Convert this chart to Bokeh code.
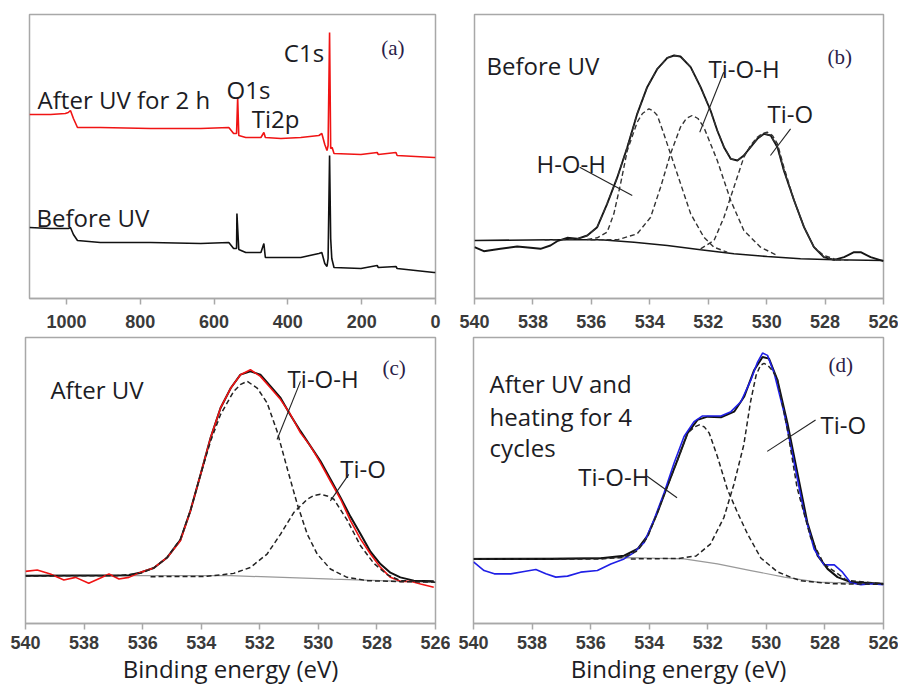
from bokeh.plotting import figure
from bokeh.layouts import column, row
from bokeh.models import Range1d, FixedTicker, Label, ColumnDataSource
from bokeh.embed import file_html
from bokeh.resources import INLINE

# ---------------- (a) survey spectra ----------------
survey_after_be = [1100, 1043, 1003, 995, 989, 981, 970, 908, 772, 636, 560, 547, 539, 536, 533,
                   514, 473, 465, 461, 419, 365, 316, 308, 300, 294, 291, 287, 284, 280, 275,
                   202, 158, 155, 107, 104, 4, 0]
survey_after_int = [184, 184, 185, 186, 188, 180, 171, 171, 170, 170, 171, 165, 165, 201, 163,
                    161, 161, 166, 161, 160, 161, 163, 165, 154, 148, 153, 266, 150, 151, 145,
                    144, 146, 144, 146, 143, 141, 141]
survey_before_be = [1100, 1043, 1003, 995, 989, 981, 970, 908, 772, 636, 560, 547, 539, 538, 533,
                    514, 473, 465, 461, 419, 365, 316, 308, 300, 294, 291, 287, 284, 281, 275,
                    202, 158, 155, 107, 104, 4, 0]
survey_before_int = [71, 70, 70, 70, 71, 64, 58, 56, 56, 55, 56, 50, 50, 85, 49,
                     46, 46, 55, 41, 41, 41, 45, 46, 35, 32, 40, 143, 60, 40, 31,
                     30, 33, 31, 32, 30, 26, 26]
survey_ticks = [1000, 800, 600, 400, 200, 0]

# ---------------- (b) O1s before UV ----------------
b_raw_be = [540.00, 539.68, 539.11, 538.54, 538.08, 537.74, 537.40, 537.17, 536.83, 536.48,
            536.14, 535.80, 535.46, 535.11, 534.77, 534.43, 534.09, 533.74, 533.40, 533.17,
            532.95, 532.60, 532.26, 531.92, 531.69, 531.46, 531.23, 531.00, 530.78, 530.55,
            530.32, 530.09, 529.86, 529.63, 529.41, 529.06, 528.72, 528.38, 528.04, 527.69,
            527.35, 527.01, 526.78, 526.44, 526.00]
b_raw_int = [56.3, 52.3, 54.7, 57.0, 55.7, 54.7, 58.0, 62.3, 65.7, 64.7,
             68.0, 76.3, 99.7, 126.3, 156.3, 189.7, 216.3, 234.7, 245.7, 248.0,
             247.0, 236.3, 216.3, 193.0, 173.0, 156.3, 144.7, 143.0, 148.0, 156.3,
             164.7, 169.7, 168.0, 156.3, 133.0, 103.0, 76.3, 56.3, 46.3, 43.7,
             46.3, 51.3, 51.3, 46.3, 42.3]
b_bg_be = [540.0, 537.40, 535.68, 534.54, 533.40, 532.26, 531.12, 529.98, 528.84, 527.69, 526.0]
b_bg_int = [63.0, 63.7, 63.7, 61.3, 58.0, 53.7, 49.7, 47.0, 44.7, 43.7, 43.0]
b_hoh_be = [536.14, 535.80, 535.46, 535.23, 535.00, 534.77, 534.43, 534.25, 534.03, 533.88,
            533.74, 533.52, 533.06, 532.60, 532.15, 531.80, 531.35]
b_hoh_int = [64.0, 65.7, 71.3, 89.7, 119.7, 153.0, 181.3, 190.0, 194.7, 192.5,
             188.0, 169.7, 129.7, 89.7, 66.3, 56.3, 51.3]
b_tioh_be = [536.03, 535.11, 534.43, 533.97, 533.63, 533.29, 532.95, 532.75, 532.55, 532.35,
             532.15, 531.69, 531.23, 530.78, 530.21, 529.63]
b_tioh_int = [63.7, 63.7, 69.7, 86.3, 116.3, 149.7, 176.3, 185.0, 188.0, 185.0,
              176.3, 143.0, 103.0, 73.0, 56.3, 48.0]
b_tio_be = [532.26, 531.80, 531.46, 531.12, 530.78, 530.55, 530.32, 530.15, 529.98, 529.80,
            529.63, 529.41, 529.06, 528.72, 528.38, 528.04, 527.58]
b_tio_int = [54.7, 63.0, 86.3, 116.3, 146.3, 158.0, 166.3, 170.0, 171.3, 168.0,
             159.7, 136.3, 103.0, 76.3, 56.3, 48.0, 43.7]
b_env_be = [537.60, 537.00, 536.50, 536.14, 535.80, 535.46, 535.11, 534.77, 534.43, 534.09,
            533.74, 533.40, 533.17, 532.95, 532.60, 532.26, 531.92, 531.69, 531.46, 531.23,
            531.00, 530.78, 530.55, 530.32, 530.09, 529.86, 529.63, 529.41, 529.06, 528.72,
            528.38, 528.04, 527.69, 527.20]
b_env_int = [63.5, 63.8, 64.5, 68.0, 76.3, 99.7, 126.3, 156.3, 189.7, 216.3,
             234.7, 245.7, 248.0, 247.0, 236.3, 216.3, 193.0, 173.0, 156.3, 144.7,
             143.0, 148.0, 156.3, 164.7, 169.7, 168.0, 156.3, 133.0, 103.0, 76.3,
             56.3, 46.3, 43.7, 43.3]

# ---------------- (c) O1s after UV ----------------
c_raw_be = [540.00, 539.60, 539.15, 538.69, 538.29, 537.84, 537.44, 537.15, 536.81, 536.47,
            536.07, 535.62, 535.16, 534.71, 534.37, 534.02, 533.68, 533.34, 532.99, 532.66,
            532.32, 531.98, 531.63, 531.29, 530.95, 530.61, 530.27, 529.93, 529.59, 529.24,
            528.90, 528.56, 528.22, 527.88, 527.54, 527.20, 526.85, 526.51, 526.06]
c_raw_int = [52.3, 53.7, 49.7, 43.7, 46.3, 40.3, 45.7, 49.7, 44.7, 46.3,
             51.3, 55.7, 66.3, 83.0, 113.0, 149.7, 186.3, 216.3, 236.3, 249.7,
             254.7, 248.0, 236.3, 224.7, 209.7, 191.3, 178.0, 161.3, 143.0, 124.7,
             103.0, 84.7, 69.7, 56.3, 46.3, 42.3, 42.3, 39.7, 36.3]
c_bg_be = [540.0, 533.0, 529.5, 526.0]
c_bg_int = [48.0, 48.0, 44.5, 41.3]
c_tioh_be = [540.0, 536.87, 536.07, 535.62, 535.16, 534.71, 534.37, 534.02, 533.68, 533.34,
             532.89, 532.65, 532.43, 532.09, 531.75, 531.41, 531.07, 530.72, 530.38, 530.04,
             529.59, 529.02, 528.33, 527.20, 526.0]
c_tioh_int = [47.7, 48.0, 50.3, 55.7, 66.3, 84.7, 113.0, 149.7, 183.0, 209.7,
              233.0, 240.0, 243.0, 236.3, 221.3, 193.0, 156.3, 119.7, 89.7, 69.7,
              54.7, 46.3, 43.0, 42.0, 41.5]
c_tio_be = [535.73, 533.80, 532.89, 532.32, 531.75, 531.29, 530.84, 530.38, 530.15, 529.93,
            529.70, 529.47, 529.02, 528.56, 528.11, 527.65, 527.20, 526.06]
c_tio_int = [47.0, 47.3, 50.3, 56.3, 69.7, 89.7, 111.3, 124.7, 128.5, 129.7,
             128.0, 124.7, 104.0, 78.0, 60.5, 49.0, 43.0, 42.0]
c_env_be = [540.0, 536.47, 536.07, 535.62, 535.16, 534.71, 534.37, 534.02, 533.68, 533.34,
            532.99, 532.66, 532.32, 531.98, 531.63, 531.29, 530.95, 530.61, 530.27, 529.93,
            529.59, 529.24, 528.90, 528.56, 528.22, 527.88, 527.54, 527.20, 526.74, 526.06]
c_env_int = [48.0, 48.5, 51.3, 55.7, 66.3, 84.0, 113.0, 149.7, 186.3, 216.3,
             236.3, 249.7, 253.0, 249.7, 238.0, 226.3, 209.0, 193.0, 178.0, 163.0,
             145.0, 126.3, 107.0, 89.7, 72.0, 59.7, 51.0, 46.3, 43.0, 42.3]

# ---------------- (d) O1s after UV + heating ----------------
d_raw_be = [540.00, 539.64, 539.29, 538.73, 538.27, 537.87, 537.53, 537.19, 536.79, 536.34,
            535.77, 535.31, 534.86, 534.51, 534.17, 533.83, 533.49, 533.15, 532.81, 532.47,
            532.18, 531.90, 531.55, 531.21, 530.87, 530.53, 530.30, 530.13, 529.96, 529.73,
            529.39, 529.05, 528.71, 528.37, 528.03, 527.68, 527.40, 527.12, 526.77, 526.43,
            526.00]
d_raw_int = [62.0, 53.3, 50.0, 50.0, 52.3, 54.3, 50.0, 46.7, 47.7, 51.7,
             53.3, 60.0, 65.0, 71.7, 81.7, 105.0, 131.7, 161.7, 188.3, 203.3,
             209.0, 209.0, 209.0, 213.3, 223.3, 245.0, 263.3, 272.3, 270.0, 251.7,
             211.7, 161.7, 111.7, 75.0, 59.0, 59.0, 51.7, 41.0, 39.0, 40.0,
             39.0]
d_bg_be = [540.0, 534.63, 532.81, 531.67, 530.53, 529.39, 528.25, 526.0]
d_bg_int = [65.7, 66.3, 65.0, 60.0, 53.3, 46.7, 41.7, 40.0]
d_tioh_be = [540.0, 535.65, 534.86, 534.40, 534.06, 533.72, 533.38, 533.03, 532.69, 532.45,
             532.29, 532.12, 531.95, 531.67, 531.33, 530.99, 530.64, 530.19, 529.62, 529.18,
             528.82, 527.68, 526.0]
d_tioh_int = [65.0, 65.0, 66.7, 73.3, 86.7, 111.7, 138.3, 165.0, 191.7, 198.0,
              200.0, 198.0, 191.7, 168.0, 135.0, 112.0, 90.0, 66.0, 52.0, 46.7,
              43.0, 40.0, 39.5]
d_tio_be = [534.63, 533.00, 532.40, 531.91, 531.45, 531.11, 530.77, 530.54, 530.35, 530.20,
            530.08, 529.95, 529.80, 529.63, 529.29, 528.95, 528.49, 528.04, 527.24, 526.00]
d_tio_int = [65.0, 65.5, 68.0, 80.0, 106.7, 140.0, 180.0, 223.3, 250.0, 260.0,
             262.0, 260.0, 255.0, 246.7, 196.7, 136.7, 86.7, 60.0, 43.3, 40.0]
d_env_be = [540.0, 537.36, 535.65, 534.86, 534.40, 534.06, 533.72, 533.38, 533.03, 532.69,
            532.35, 532.01, 531.55, 531.10, 530.76, 530.42, 530.13, 529.91, 529.62, 529.28,
            528.94, 528.60, 528.25, 527.91, 527.57, 527.12, 526.0]
d_env_int = [65.0, 65.0, 65.7, 68.3, 75.0, 88.3, 111.7, 138.3, 165.0, 191.7,
             205.0, 208.3, 207.7, 213.3, 228.3, 255.0, 268.3, 266.7, 245.0, 201.7,
             151.7, 101.7, 68.3, 55.0, 46.7, 41.7, 40.0]

o1s_ticks = [540, 538, 536, 534, 532, 530, 528, 526]
x_title = "Binding energy (eV)"

# ---------------- styling ----------------
FRAME = "#a8a8a8"
TXT = "#1c1c24"
LABEL_FONT = "Open Sans"
LABEL_SIZE = "24px"
DASH = "5 3"


def make_fig(width, height, xr, yr, ticks, bl, br, bt, bb, standoff=10):
    p = figure(width=width, height=height, x_range=Range1d(*xr), y_range=Range1d(*yr),
               output_backend="svg", toolbar_location=None, tools="", title=None,
               y_axis_location=None,
               min_border_left=bl, min_border_right=br, min_border_top=bt, min_border_bottom=bb)
    p.grid.visible = False
    p.background_fill_color = "white"
    p.border_fill_color = "white"
    p.outline_line_color = FRAME
    p.outline_line_width = 1.5
    p.outline_line_alpha = 1.0
    ax = p.xaxis[0]
    ax.ticker = FixedTicker(ticks=ticks)
    ax.minor_tick_line_color = None
    ax.axis_line_color = FRAME
    ax.axis_line_width = 1.5
    ax.major_tick_line_color = FRAME
    ax.major_tick_line_width = 1.5
    ax.major_tick_in = 0
    ax.major_tick_out = 6
    ax.major_label_standoff = standoff
    ax.major_label_text_font = "Liberation Sans"
    ax.major_label_text_font_size = "18px"
    ax.major_label_text_font_style = "bold"
    ax.major_label_text_color = "#3a3a3a"
    return p


def add_xtitle(p):
    ax = p.xaxis[0]
    ax.axis_label = x_title
    ax.axis_label_text_font = LABEL_FONT
    ax.axis_label_text_font_size = "24px"
    ax.axis_label_text_font_style = "normal"
    ax.axis_label_text_color = TXT
    ax.axis_label_standoff = 0


def txt(p, x, y, s, size=LABEL_SIZE, font=LABEL_FONT, baseline="alphabetic", color=TXT):
    p.add_layout(Label(x=x, y=y, text=s, text_font=font, text_font_size=size,
                       text_color=color, text_baseline=baseline, text_align="left"))


def panel_tag(p, x, y, s):
    p.add_layout(Label(x=x, y=y, text=s, text_font="Liberation Serif", text_font_size="21px",
                       text_color="#2a2048", text_baseline="middle", text_align="left"))


def leaders(p, x0, y0, x1, y1):
    src = ColumnDataSource(dict(x0=x0, y0=y0, x1=x1, y1=y1))
    p.segment(x0="x0", y0="y0", x1="x1", y1="y1", source=src, line_color="#222222", line_width=1.1)


# ---------- (a) ----------
pa = make_fig(450, 335, (1100, 0), (0, 284), survey_ticks, 29, 15, 14, 37)
pa.line(survey_after_be, survey_after_int, line_color="#f01414", line_width=1.6)
pa.line(survey_before_be, survey_before_int, line_color="#111111", line_width=1.6)
txt(pa, 1078, 199, "After UV for 2 h")
txt(pa, 566, 209, "O1s")
txt(pa, 498, 180, "Ti2p")
txt(pa, 411, 246, "C1s")
txt(pa, 1081, 81, "Before UV")
panel_tag(pa, 147, 251, "(a)")

# ---------- (b) ----------
pb = make_fig(448, 335, (540, 526), (5, 289), o1s_ticks, 24, 15, 14, 37)
pb.line(b_bg_be, b_bg_int, line_color="#151515", line_width=1.6)
pb.line(b_raw_be, b_raw_int, line_color="#151515", line_width=1.9)
pb.line(b_env_be, b_env_int, line_color="#333333", line_width=1.3, line_dash=DASH)
pb.line(b_hoh_be, b_hoh_int, line_color="#333333", line_width=1.4, line_dash=DASH)
pb.line(b_tioh_be, b_tioh_int, line_color="#333333", line_width=1.4, line_dash=DASH)
pb.line(b_tio_be, b_tio_int, line_color="#333333", line_width=1.4, line_dash=DASH)
txt(pb, 539.59, 238, "Before UV")
txt(pb, 537.88, 140, "H-O-H")
txt(pb, 531.99, 235, "Ti-O-H")
txt(pb, 529.97, 190, "Ti-O")
leaders(pb, [536.40, 531.47, 529.18], [136.3, 231.3, 174.7], [534.60, 532.29, 529.87], [108.0, 171.3, 148.0])
panel_tag(pb, 527.92, 247, "(b)")

# ---------- (c) ----------
pc = make_fig(450, 355, (540, 526), (0, 287), o1s_ticks, 25, 15, 1, 67, standoff=6)
add_xtitle(pc)
pc.line(c_bg_be, c_bg_int, line_color="#999999", line_width=1.2)
pc.line(c_env_be, c_env_int, line_color="#111111", line_width=2.0)
pc.line(c_raw_be, c_raw_int, line_color="#f01414", line_width=1.6)
pc.line(c_tioh_be, c_tioh_int, line_color="#222222", line_width=1.5, line_dash=DASH)
pc.line(c_tio_be, c_tio_int, line_color="#222222", line_width=1.5, line_dash=DASH)
txt(pc, 539.15, 235, "After UV")
txt(pc, 531.05, 246, "Ti-O-H")
txt(pc, 529.25, 156, "Ti-O")
leaders(pc, [530.61, 528.96], [243.0, 149.7], [531.41, 529.59], [184.7, 123.0])
panel_tag(pc, 527.81, 256, "(c)")

# ---------- (d) ----------
pd_ = make_fig(448, 355, (540, 526), (0, 288), o1s_ticks, 23, 15, 2, 65, standoff=6)
add_xtitle(pd_)
pd_.line(d_bg_be, d_bg_int, line_color="#999999", line_width=1.2)
pd_.line(d_env_be, d_env_int, line_color="#111111", line_width=2.0)
pd_.line(d_raw_be, d_raw_int, line_color="#1f1fe6", line_width=1.6)
pd_.line(d_tioh_be, d_tioh_int, line_color="#222222", line_width=1.5, line_dash=DASH)
pd_.line(d_tio_be, d_tio_int, line_color="#222222", line_width=1.5, line_dash=DASH)
txt(pd_, 539.45, 242, "After UV and")
txt(pd_, 539.45, 208, "heating for 4")
txt(pd_, 539.45, 177, "cycles")
txt(pd_, 536.42, 148, "Ti-O-H")
txt(pd_, 528.15, 200, "Ti-O")
leaders(pd_, [534.07, 528.32], [148.3, 205.0], [533.05, 529.97], [126.7, 173.3])
panel_tag(pd_, 527.88, 260, "(d)")

layout = column(row(pa, pb), row(pc, pd_))
open("out.html", "w").write(file_html(layout, INLINE))
